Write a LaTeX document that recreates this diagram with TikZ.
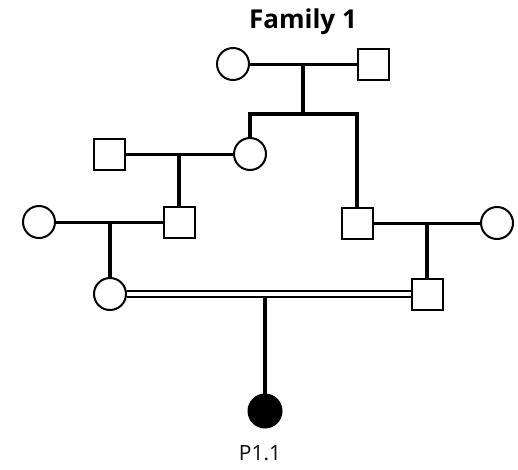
\documentclass[tikz,border=0pt]{standalone}
\usepackage{fontspec}
\setmainfont{Open Sans}
\begin{document}
\begin{tikzpicture}[x=1pt,y=-1pt,
  circ/.style={circle, draw, line width=2pt, minimum size=32pt, inner sep=0pt, fill=white},
  sq/.style={rectangle, draw, line width=2pt, minimum size=31pt, inner sep=0pt, fill=white},
  aff/.style={circle, draw, fill=black, line width=2pt, minimum size=33pt, inner sep=0pt},
  mate/.style={line width=3pt},
  desc/.style={line width=4pt},
  cons/.style={double, double distance=4pt, line width=2pt}]
\path[use as bounding box] (0,0) rectangle (518,469);
% title
\node[font=\bfseries\fontsize{26}{30}\selectfont, anchor=base] (title) at (303,28) {Family 1};
% generation I
\node[circ] (I1) at (233,64) {};
\node[sq]   (I2) at (373,64) {};
% generation II
\node[sq]   (II1) at (109,154) {};
\node[circ] (II2) at (250,154) {};
\node[sq]   (II3) at (357,223) {};
% generation III
\node[circ] (III1) at (39,222) {};
\node[sq]   (III2) at (179,222) {};
\node[circ] (III3) at (497,223) {};
% generation IV
\node[circ] (IV1) at (110,294) {};
\node[sq]   (IV2) at (427,294) {};
% proband
\node[aff]  (V1) at (265,411) {};
\node[font=\fontsize{21}{24}\selectfont, text=black!95, anchor=base] (lab) at (260,460) {P1.1};
% mating points
\coordinate (m1) at (303,64);
\coordinate (s1) at (303,114);
\coordinate (m2) at (179,154);
\coordinate (m3) at (110,222);
\coordinate (m4) at (427,223);
\coordinate (m5) at (265,297);
% connectors
\draw[mate] (I1) -- (I2);
\draw[desc] (m1) -- (s1);
\draw[desc] (II2.north) |- (s1) -| (II3.north);
\draw[mate] (II1) -- (II2);
\draw[desc] (m2) -- (III2.north);
\draw[mate] (III1) -- (III2);
\draw[desc] (m3) -- (IV1.north);
\draw[mate] (II3) -- (III3);
\draw[desc] (m4) -- (IV2.north);
\draw[cons] (IV1) -- (IV2);
\draw[desc] (m5) -- (V1.north);
\end{tikzpicture}
\end{document}
